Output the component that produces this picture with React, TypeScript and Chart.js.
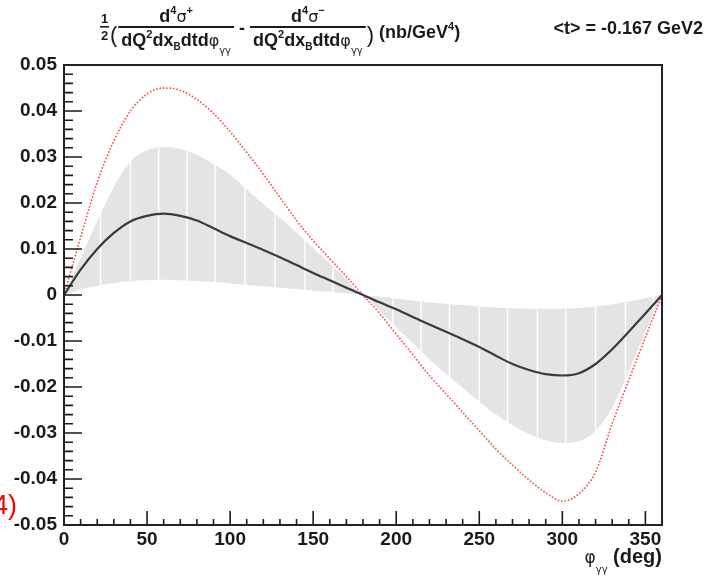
import React, { useEffect, useRef } from "react";
import { Chart, registerables } from "chart.js";

Chart.register(...registerables);

// ---------- data ----------
const phiDeg = [0, 10, 20, 30, 40, 50, 60, 70, 80, 90, 100, 110, 120, 130, 140, 150, 160, 170, 180,
  190, 200, 210, 220, 230, 240, 250, 260, 270, 280, 290, 300, 310, 320, 330, 340, 350, 360];

const centralValues = [0, 0.0055, 0.0100, 0.0135, 0.0160, 0.0172, 0.0177, 0.0172, 0.0162, 0.0145,
  0.0128, 0.0113, 0.0098, 0.0082, 0.0065, 0.0048, 0.0032, 0.0016, 0,
  -0.0016, -0.0031, -0.0048, -0.0064, -0.0080, -0.0096, -0.0113, -0.0132, -0.0150, -0.0163,
  -0.0172, -0.0175, -0.0170, -0.0150, -0.0118, -0.0080, -0.0040, 0];

const modelValues = [0, 0.0125, 0.0245, 0.0335, 0.0400, 0.0437, 0.0450, 0.0445, 0.0425, 0.0395,
  0.0355, 0.0310, 0.0263, 0.0212, 0.0162, 0.0118, 0.0079, 0.0040, 0,
  -0.0040, -0.0085, -0.0130, -0.0175, -0.0215, -0.0255, -0.0295, -0.0335, -0.0370, -0.0402,
  -0.0430, -0.0448, -0.0432, -0.0385, -0.0280, -0.0185, -0.0092, 0];

const bandUpper = [0, 0.0080, 0.0160, 0.0235, 0.0290, 0.0315, 0.0322, 0.0318, 0.0305, 0.0285,
  0.0262, 0.0230, 0.0198, 0.0168, 0.0136, 0.0102, 0.0068, 0.0034, 0,
  -0.0003, -0.0008, -0.0012, -0.0016, -0.0019, -0.0022, -0.0025, -0.0027, -0.0029, -0.0030,
  -0.0030, -0.0030, -0.0028, -0.0025, -0.0020, -0.0014, -0.0007, 0];

const bandLower = [0, 0.0012, 0.0020, 0.0026, 0.0030, 0.0032, 0.0033, 0.0032, 0.0030, 0.0028,
  0.0025, 0.0022, 0.0019, 0.0016, 0.0013, 0.0010, 0.0007, 0.0003, 0,
  -0.0035, -0.0070, -0.0105, -0.0140, -0.0172, -0.0202, -0.0232, -0.0260, -0.0283, -0.0302,
  -0.0316, -0.0322, -0.0318, -0.0295, -0.0245, -0.0165, -0.0080, 0];

const bandGapPhi = [22, 40, 57, 74, 91, 109, 127, 145, 162, 198, 215, 232, 250, 267, 285, 302, 320, 338, 355];

const xRange = [0, 360];
const yRange = [-0.05, 0.05];
const xMajorStep = 50;
const xMinorStep = 10;
const yMajorStep = 0.01;
const yMinorStep = 0.002;

const rightTitle = "<t> = -0.167 GeV2";
const xTitle = { sym: "φ", sub: "γγ", unit: " (deg)" };
const cornerNote = "4)";

// ---------- helpers ----------
type Run = { t: string; size: number; dy?: number; normal?: boolean; greek?: boolean };

const FONT = '"Liberation Sans", Arial, sans-serif';
const GREEK = '"DejaVu Sans", sans-serif';

function runFont(r: Run) {
  return `${r.normal ? "normal" : "bold"} ${r.size}px ${r.greek ? GREEK : FONT}`;
}
function measureRuns(ctx: CanvasRenderingContext2D, runs: Run[]) {
  let w = 0;
  for (const r of runs) {
    ctx.font = runFont(r);
    w += ctx.measureText(r.t).width;
  }
  return w;
}
function drawRuns(ctx: CanvasRenderingContext2D, runs: Run[], x: number, y: number) {
  ctx.textAlign = "left";
  ctx.textBaseline = "alphabetic";
  for (const r of runs) {
    ctx.font = runFont(r);
    ctx.fillText(r.t, x, y + (r.dy || 0));
    x += ctx.measureText(r.t).width;
  }
  return x;
}

const numerator = (sign: string): Run[] => [
  { t: "d", size: 18 },
  { t: "4", size: 11, dy: -8 },
  { t: "σ", size: 16, greek: true, normal: true },
  { t: sign, size: 11, dy: -8 },
];
const denominator: Run[] = [
  { t: "dQ", size: 18 },
  { t: "2", size: 11, dy: -8 },
  { t: "dx", size: 18 },
  { t: "B", size: 10, dy: 4 },
  { t: "dtd", size: 18 },
  { t: "φ", size: 16, greek: true, normal: true },
  { t: "γγ", size: 10, dy: 8, greek: true, normal: true },
];

function drawFraction(ctx: CanvasRenderingContext2D, x: number, num: Run[], den: Run[]) {
  const wn = measureRuns(ctx, num);
  const wd = measureRuns(ctx, den);
  const w = Math.max(wn, wd) + 6;
  drawRuns(ctx, num, x + (w - wn) / 2, 22);
  drawRuns(ctx, den, x + (w - wd) / 2, 46);
  ctx.fillRect(x, 26, w, 2);
  return x + w;
}

const titlePlugin = {
  id: "titleDraw",
  afterDraw(chart: any) {
    const ctx: CanvasRenderingContext2D = chart.ctx;
    ctx.save();
    ctx.fillStyle = "#1a1a1a";
    let x = 100;
    // 1/2
    ctx.font = `bold 13px ${FONT}`;
    ctx.textAlign = "center";
    ctx.fillText("1", x + 4.5, 23);
    ctx.fillText("2", x + 4.5, 40);
    ctx.fillRect(x, 26, 9, 1.6);
    x += 10;
    x = drawRuns(ctx, [{ t: "(", size: 22, normal: true }], x, 42);
    x = drawFraction(ctx, x + 1, numerator("+"), denominator);
    x = drawRuns(ctx, [{ t: " - ", size: 18 }], x, 34);
    x = drawFraction(ctx, x, numerator("−"), denominator);
    x = drawRuns(ctx, [{ t: ")", size: 22, normal: true }], x + 1, 42);
    drawRuns(ctx, [
      { t: " (nb/GeV", size: 18 },
      { t: "4", size: 11, dy: -8 },
      { t: ")", size: 18 },
    ], x, 38);

    // right title
    ctx.font = `bold 18px ${FONT}`;
    ctx.textAlign = "right";
    ctx.textBaseline = "alphabetic";
    ctx.fillText(rightTitle, 703, 34);

    // x axis title
    const xt: Run[] = [
      { t: xTitle.sym, size: 17, greek: true, normal: true },
      { t: xTitle.sub, size: 10, dy: 10, greek: true, normal: true },
      { t: xTitle.unit, size: 20 },
    ];
    const wx = measureRuns(ctx, xt);
    drawRuns(ctx, xt, chart.chartArea.right - wx, 563);

    // corner note
    ctx.fillStyle = "#ff0000";
    ctx.font = `normal 27px ${FONT}`;
    ctx.textAlign = "right";
    ctx.fillText(cornerNote, 17, 514);
    ctx.restore();
  },
};

const gapPlugin = {
  id: "bandGaps",
  beforeDatasetDraw(chart: any, args: any) {
    if (args.index !== 1) return;
    const { ctx, chartArea, scales } = chart;
    ctx.save();
    ctx.beginPath();
    ctx.rect(chartArea.left, chartArea.top, chartArea.right - chartArea.left, chartArea.bottom - chartArea.top);
    ctx.clip();
    ctx.strokeStyle = "rgba(255,255,255,0.9)";
    ctx.lineWidth = 1.5;
    ctx.beginPath();
    for (const p of bandGapPhi) {
      const px = scales.x.getPixelForValue(p);
      ctx.moveTo(px, chartArea.top);
      ctx.lineTo(px, chartArea.bottom);
    }
    ctx.stroke();
    ctx.restore();
  },
};

const framePlugin = {
  id: "rootFrame",
  afterDraw(chart: any) {
    const { ctx, chartArea, scales } = chart;
    const { left, right, top, bottom } = chartArea;
    ctx.save();
    ctx.strokeStyle = "#1a1a1a";
    ctx.lineWidth = 1.6;
    ctx.beginPath();
    const nY = Math.round((yRange[1] - yRange[0]) / yMinorStep);
    const perMajorY = Math.round(yMajorStep / yMinorStep);
    for (let i = 0; i <= nY; i++) {
      const v = yRange[0] + i * yMinorStep;
      const py = scales.y.getPixelForValue(v);
      const len = i % perMajorY === 0 ? 18 : 9;
      ctx.moveTo(left, py);
      ctx.lineTo(left + len, py);
    }
    const nX = Math.round((xRange[1] - xRange[0]) / xMinorStep);
    const perMajorX = Math.round(xMajorStep / xMinorStep);
    for (let i = 0; i <= nX; i++) {
      const v = xRange[0] + i * xMinorStep;
      const px = scales.x.getPixelForValue(v);
      const len = i % perMajorX === 0 ? 14 : 6;
      ctx.moveTo(px, bottom);
      ctx.lineTo(px, bottom - len);
    }
    ctx.stroke();
    ctx.lineWidth = 2;
    ctx.strokeStyle = "#222";
    ctx.strokeRect(left, top, right - left, bottom - top);
    ctx.restore();
  },
};

const pts = (vals: number[]) => phiDeg.map((x, i) => ({ x, y: vals[i] }));

export default function App() {
  const ref = useRef<HTMLCanvasElement>(null);
  useEffect(() => {
    const canvas = ref.current;
    if (!canvas) return;
    const chart = new Chart(canvas, {
      type: "line",
      data: {
        datasets: [
          {
            label: "central",
            data: pts(centralValues),
            borderColor: "#3a3a3a",
            borderWidth: 2.2,
            pointRadius: 0,
            fill: false,
            cubicInterpolationMode: "monotone",
          },
          {
            label: "model",
            data: pts(modelValues),
            borderColor: "rgba(255,50,50,0.85)",
            borderWidth: 1.8,
            borderDash: [0.1, 3.3],
            borderCapStyle: "round",
            pointRadius: 0,
            fill: false,
            cubicInterpolationMode: "monotone",
          },
          {
            label: "bandUpper",
            data: pts(bandUpper),
            borderWidth: 0,
            borderColor: "rgba(0,0,0,0)",
            backgroundColor: "#e4e4e4",
            pointRadius: 0,
            fill: "+1",
            cubicInterpolationMode: "monotone",
          },
          {
            label: "bandLower",
            data: pts(bandLower),
            borderWidth: 0,
            borderColor: "rgba(0,0,0,0)",
            pointRadius: 0,
            fill: false,
            cubicInterpolationMode: "monotone",
          },
        ] as any,
      },
      options: {
        responsive: false,
        devicePixelRatio: 1,
        animation: false,
        events: [],
        layout: { padding: { left: 0, top: 65, right: 44, bottom: 0 } },
        plugins: {
          legend: { display: false },
          tooltip: { enabled: false },
          title: { display: false },
        },
        scales: {
          x: {
            type: "linear",
            min: xRange[0],
            max: xRange[1],
            grid: { display: false, drawTicks: false },
            border: { display: false },
            afterFit: (s: any) => { s.height = 52; },
            ticks: {
              stepSize: xMajorStep,
              includeBounds: false,
              padding: 3,
              color: "#1a1a1a",
              maxRotation: 0,
              autoSkip: false,
              font: { family: FONT, size: 19, weight: "bold" },
              callback: (v: any) => String(Math.round(Number(v))),
            },
          },
          y: {
            type: "linear",
            min: yRange[0],
            max: yRange[1],
            grid: { display: false, drawTicks: false },
            border: { display: false },
            afterFit: (s: any) => { s.width = 64; },
            ticks: {
              stepSize: yMajorStep,
              padding: 7,
              color: "#1a1a1a",
              autoSkip: false,
              font: { family: FONT, size: 19, weight: "bold" },
              callback: (v: any) => {
                const r = Math.round(Number(v) * 100) / 100;
                return r === 0 ? "0" : String(r);
              },
            },
          },
        },
      } as any,
      plugins: [gapPlugin, framePlugin, titlePlugin],
    });
    return () => chart.destroy();
  }, []);
  return (
    <div style={{ position: "absolute", left: 0, top: 0, width: 706, height: 577, background: "#fff" }}>
      <canvas ref={ref} width={706} height={577} style={{ width: 706, height: 577, display: "block" }} />
    </div>
  );
}
